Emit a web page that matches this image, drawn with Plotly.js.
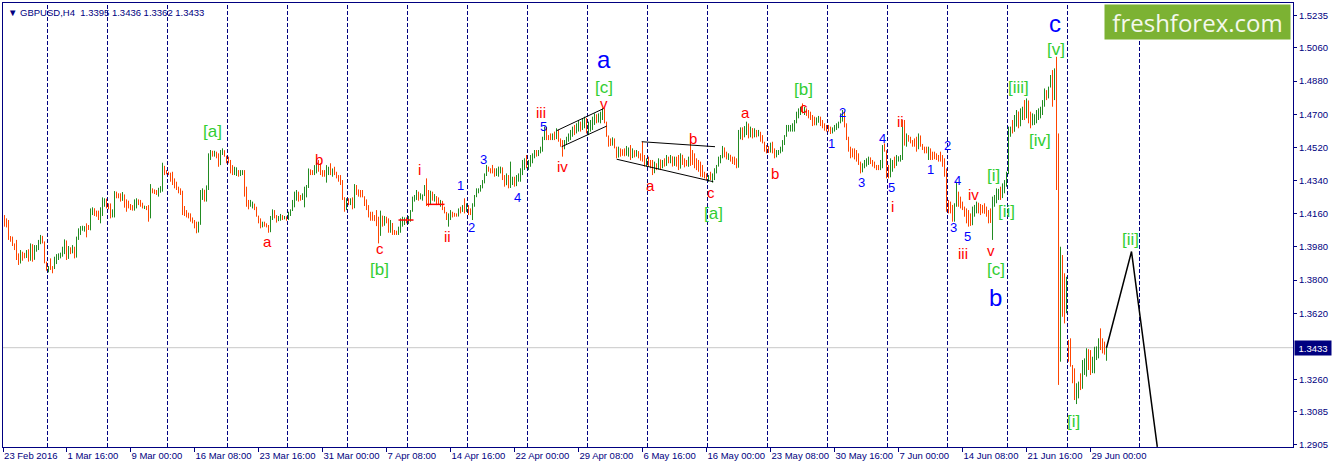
<!DOCTYPE html>
<html><head><meta charset="utf-8">
<script src="https://cdn.plot.ly/plotly-3.0.1.min.js"></script>
<style>html,body{margin:0;padding:0;background:#fff}#chart{width:1333px;height:468px}</style>
</head><body><div id="chart"></div>
<script>
// GBPUSD H4 bars, values in pips above 1.0000 (e.g. 4153 = 1.4153)
const symbol = 'GBPUSD,H4';
const firstOpen = 4140;
const highs = [
4153,4135,4126,4039,4036,3999,4018,3945,3963,3954,3948,3963,3967,3999,3995,3990,3990,4018,4045,4040,4010,3900,
3876,3918,3876,3927,3941,3945,3949,3981,4021,4015,3985,3978,3990,3981,4036,4081,4093,4095,4093,4108,4099,4189,4195,4190,4177,4177,4195,4249,4244,4242,
4216,4216,4184,4283,4280,4271,4271,4278,4265,4238,4231,4213,4207,4238,4244,4238,4235,4220,4204,4202,4207,4321,4298,4292,4289,4301,4310,4437,4420,4397,
4388,4383,4388,4352,4334,4307,4298,4285,4202,4180,4166,4162,4140,4126,4117,4117,4289,4298,4290,4314,4488,4506,4502,4502,4497,4488,4506,4515,4505,4475,
4470,4452,4424,4415,4412,4397,4397,4397,4397,4307,4235,4235,4226,4215,4198,4150,4135,4117,4117,4108,4099,4148,4184,4180,4153,4148,4159,4153,4148,4146,
4171,4184,4235,4280,4289,4280,4262,4271,4307,4316,4406,4401,4397,4424,4455,4452,4434,4397,4397,4424,4415,4434,4406,4415,4388,4370,4370,4343,4250,4244,
4244,4244,4249,4321,4316,4292,4289,4289,4255,4238,4207,4171,4171,4153,4180,4144,4177,4150,4148,4144,4135,4126,4110,4072,4068,4090,4135,4144,4140,4140,
4148,4180,4253,4262,4289,4280,4271,4265,4316,4352,4289,4285,4280,4267,4256,4249,4235,4230,4198,4170,4162,4180,4171,4165,4162,4189,4198,4207,4244,4217,
4207,4189,4217,4262,4298,4298,4316,4343,4379,4425,4416,4407,4425,4407,4407,4416,4416,4412,4370,4379,4370,4443,4361,4361,4370,4379,4407,4452,4461,4479,
4452,4479,4488,4506,4506,4506,4524,4578,4633,4630,4587,4596,4596,4606,4624,4615,4569,4560,4560,4578,4596,4615,4633,4642,4651,4669,4660,4678,4687,4680,
4660,4669,4687,4705,4700,4705,4714,4732,4732,4660,4585,4569,4575,4569,4524,4524,4515,4510,4515,4528,4520,4533,4515,4505,4506,4500,4488,4551,4479,4461,
4470,4452,4452,4443,4434,4461,4455,4452,4461,4479,4470,4479,4472,4470,4470,4479,4488,4480,4461,4452,4470,4584,4506,4488,4461,4452,4443,4425,4388,4379,
4370,4388,4379,4407,4425,4470,4479,4528,4520,4497,4488,4480,4470,4470,4461,4615,4629,4629,4636,4660,4650,4633,4625,4624,4615,4615,4605,4587,4551,4533,
4528,4546,4551,4515,4506,4506,4524,4560,4587,4642,4642,4642,4651,4669,4714,4732,4741,4759,4741,4732,4723,4714,4696,4687,4683,4691,4687,4669,4651,4642,
4642,4633,4629,4642,4651,4660,4705,4723,4715,4651,4578,4524,4515,4515,4506,4488,4443,4434,4452,4461,4470,4466,4452,4443,4425,4425,4452,4533,4542,4505,
4425,4461,4452,4470,4479,4472,4479,4669,4669,4596,4587,4578,4560,4569,4578,4596,4585,4539,4524,4524,4524,4515,4497,4497,4488,4479,4497,4479,4461,4406,
4235,4226,4208,4217,4334,4280,4253,4226,4199,4189,4180,4162,4199,4208,4226,4220,4213,4208,4217,4199,4180,4189,4253,4262,4298,4295,4307,4325,4343,4388,
4633,4633,4669,4696,4723,4715,4732,4741,4777,4786,4775,4714,4705,4700,4723,4732,4741,4777,4840,4831,4850,4913,4940,4949,5012,4596,3981,3936,3837,3818,
3475,3484,3339,3321,3240,3249,3294,3366,3375,3430,3425,3420,3384,3438,3440,3484,3538,3484,3466,3436
];
const lows = [
4090,4086,4018,4008,3985,3963,3909,3882,3890,3905,3918,3920,3900,3905,3900,3910,3954,3963,3995,3999,3891,3851,
3842,3855,3837,3860,3887,3909,3918,3927,3941,3909,3915,3941,3945,3918,3922,4018,4045,4068,4063,4032,4072,4070,4153,4148,4144,4126,4108,4148,4198,4189,
4184,4135,4140,4140,4244,4244,4226,4230,4193,4171,4189,4180,4177,4177,4189,4207,4198,4189,4186,4180,4117,4135,4271,4267,4262,4253,4274,4280,4370,4374,
4370,4334,4316,4298,4289,4271,4262,4153,4148,4140,4135,4117,4108,4081,4054,4058,4100,4235,4226,4226,4289,4452,4470,4470,4461,4415,4424,4479,4470,4434,
4434,4379,4370,4370,4365,4361,4365,4370,4253,4198,4184,4198,4189,4180,4144,4108,4081,4086,4090,4086,4057,4060,4126,4135,4112,4120,4122,4126,4130,4122,
4126,4148,4175,4195,4231,4226,4231,4235,4195,4249,4300,4370,4370,4370,4379,4388,4370,4361,4361,4329,4370,4370,4361,4370,4352,4334,4316,4235,4171,4180,
4207,4207,4184,4190,4262,4253,4249,4249,4202,4180,4140,4122,4122,4120,4093,3999,4040,4090,4095,4108,4057,4057,4045,4045,4045,4045,4057,4090,4099,4108,
4104,4117,4171,4226,4235,4231,4238,4231,4256,4202,4198,4210,4231,4226,4207,4210,4198,4180,4162,4126,4090,4126,4140,4144,4144,4145,4162,4170,4162,4170,
4153,4153,4126,4198,4250,4271,4280,4298,4325,4365,4388,4379,4379,4361,4365,4361,4379,4343,4307,4315,4298,4300,4316,4307,4310,4334,4334,4370,4398,4407,
4397,4415,4434,4461,4470,4473,4488,4497,4560,4560,4560,4560,4560,4560,4565,4551,4524,4470,4510,4533,4551,4560,4578,4587,4596,4606,4606,4615,4624,4596,
4587,4606,4615,4642,4651,4655,4651,4669,4651,4578,4524,4528,4530,4515,4461,4465,4470,4475,4472,4475,4470,4452,4462,4466,4470,4461,4448,4443,4416,4416,
4418,4407,4370,4380,4397,4400,4397,4407,4416,4420,4434,4434,4416,4420,4416,4397,4405,4425,4412,4418,4415,4420,4425,4407,4397,4388,4361,4358,4352,4343,
4334,4343,4329,4343,4379,4416,4434,4461,4466,4455,4452,4443,4430,4425,4407,4410,4564,4560,4575,4587,4569,4575,4569,4575,4575,4580,4551,4542,4497,4488,
4490,4492,4488,4461,4466,4479,4488,4497,4533,4578,4606,4606,4606,4606,4651,4678,4696,4705,4696,4691,4678,4669,4636,4640,4640,4654,4636,4624,4611,4606,
4606,4593,4596,4606,4615,4624,4651,4660,4629,4560,4497,4461,4466,4455,4443,4425,4379,4385,4407,4416,4425,4430,4416,4407,4397,4397,4397,4407,4497,4352,
4352,4358,4388,4407,4420,4443,4443,4452,4530,4524,4551,4542,4524,4524,4497,4510,4524,4506,4488,4488,4452,4452,4452,4456,4452,4443,4443,4415,4361,4171,
4162,4162,4117,4117,4198,4198,4189,4180,4144,4108,4090,4094,4098,4144,4162,4162,4153,4162,4160,4144,4108,4110,4018,4198,4217,4235,4235,4245,4271,4307,
4375,4578,4596,4605,4633,4624,4635,4669,4669,4678,4651,4624,4640,4642,4651,4669,4678,4696,4741,4777,4786,4845,4741,4777,4289,3231,3357,3601,3565,3620,
3357,3330,3240,3149,3127,3158,3203,3210,3285,3276,3312,3285,3295,3294,3366,3375,3420,3402,3395,3362
];
const closes = [
4100,4095,4030,4015,3995,3975,3925,3895,3950,3945,3925,3958,3910,3990,3915,3980,3985,4010,4040,4005,3900,3860,
3870,3862,3861,3920,3935,3940,3945,3975,4015,3920,3975,3950,3980,3930,4030,4075,4085,4090,4092,4080,4075,4180,4190,4155,4150,4130,4185,4240,4242,4200,
4190,4150,4175,4270,4255,4250,4235,4265,4205,4195,4192,4185,4180,4225,4235,4215,4205,4195,4200,4185,4140,4290,4280,4275,4268,4295,4305,4420,4380,4378,
4375,4340,4330,4305,4295,4275,4268,4160,4155,4145,4140,4120,4112,4085,4060,4105,4280,4290,4235,4300,4480,4485,4475,4498,4465,4430,4500,4505,4475,4450,
4440,4385,4375,4385,4395,4370,4390,4392,4260,4210,4200,4205,4215,4190,4150,4115,4095,4110,4100,4092,4065,4140,4175,4145,4125,4140,4150,4135,4145,4140,
4165,4180,4230,4270,4280,4250,4240,4262,4300,4305,4400,4380,4375,4415,4440,4400,4380,4370,4365,4400,4405,4380,4395,4380,4360,4340,4325,4245,4185,4235,
4215,4235,4195,4300,4270,4260,4258,4255,4210,4190,4150,4130,4128,4125,4110,4050,4150,4100,4130,4115,4070,4110,4055,4050,4048,4080,4125,4135,4138,4130,
4140,4175,4245,4255,4280,4240,4262,4263,4310,4215,4210,4250,4240,4255,4215,4213,4230,4185,4168,4135,4155,4170,4150,4148,4146,4180,4170,4190,4175,4185,
4160,4158,4210,4255,4290,4295,4310,4338,4372,4415,4395,4385,4382,4370,4400,4410,4412,4350,4320,4370,4305,4320,4355,4315,4365,4375,4400,4445,4455,4415,
4445,4470,4480,4500,4475,4500,4518,4570,4625,4570,4565,4562,4590,4570,4615,4560,4530,4515,4550,4570,4590,4605,4625,4600,4645,4660,4620,4670,4680,4610,
4650,4662,4680,4700,4660,4698,4708,4725,4660,4585,4535,4532,4568,4520,4470,4515,4480,4478,4476,4480,4512,4465,4505,4472,4500,4468,4455,4450,4425,4440,
4430,4415,4385,4435,4405,4455,4410,4445,4425,4470,4440,4472,4425,4462,4430,4410,4480,4430,4420,4419,4460,4440,4435,4415,4405,4395,4370,4365,4358,4350,
4362,4350,4372,4400,4420,4462,4475,4520,4475,4462,4480,4450,4440,4432,4415,4600,4620,4575,4630,4650,4580,4625,4580,4590,4580,4605,4560,4550,4505,4500,
4495,4540,4495,4470,4500,4502,4518,4555,4580,4635,4638,4640,4645,4662,4708,4725,4735,4712,4732,4700,4685,4675,4645,4641,4675,4685,4645,4630,4618,4612,
4610,4600,4620,4635,4645,4655,4700,4715,4640,4570,4505,4470,4467,4462,4450,4430,4390,4428,4445,4450,4465,4440,4422,4412,4405,4400,4445,4525,4505,4365,
4362,4400,4440,4420,4470,4471,4475,4655,4560,4570,4560,4548,4530,4528,4515,4585,4530,4512,4495,4492,4515,4460,4458,4457,4455,4450,4446,4420,4370,4200,
4175,4170,4125,4210,4280,4220,4200,4190,4150,4115,4100,4098,4190,4200,4220,4170,4165,4163,4161,4150,4115,4113,4240,4255,4290,4292,4245,4318,4338,4380,
4620,4625,4610,4690,4715,4640,4725,4735,4690,4775,4665,4640,4695,4698,4715,4725,4735,4770,4830,4790,4845,4850,4800,4920,4320,3500,3900,3650,3620,3680,
3370,3340,3250,3160,3230,3240,3215,3355,3370,3420,3330,3300,3375,3430,3438,3480,3430,3410,3395,3433
];

// time axis labels (bar index of each label) and weekly separators (bar index)
const timeLabels = ['23 Feb 2016','1 Mar 16:00','9 Mar 00:00','16 Mar 08:00','23 Mar 16:00','31 Mar 00:00','7 Apr 08:00','14 Apr 16:00','22 Apr 00:00','29 Apr 08:00','6 May 16:00','16 May 00:00','23 May 08:00','30 May 16:00','7 Jun 00:00','14 Jun 08:00','21 Jun 16:00','29 Jun 00:00'];
const timeLabelBars = [-0.7,31,63,95,127,159,191,223,255,287,319,351,383,415,447,479,511,543];
const separatorBars = [21.5,51.5,81.5,111.5,141.5,171.5,201.5,231.5,261.5,291.5,321.5,351.5,381.5,411.5,441.5,471.5,501.5,531.5,567.5];
const priceTicks = [1.5235,1.5060,1.4880,1.4700,1.4520,1.4340,1.4160,1.3980,1.3800,1.3620,1.3260,1.3085,1.2905];

// Elliott wave labels: [text, bar index, price, style]
const waveLabels = [
['[a]',104,1.4609,'g'],['a',131.5,1.4007,'r'],['b',157,1.4457,'r'],['c',187.5,1.3969,'r'],['[b]',187.5,1.3855,'g'],
['i',207.5,1.4398,'r'],['ii',221.5,1.4034,'r'],['1',228,1.4311,'b'],['2',233.5,1.4083,'b'],['3',239.5,1.4452,'b'],
['4',256.5,1.4246,'b'],['iii',268,1.4707,'r'],['5',269.5,1.4631,'b'],['iv',279,1.4419,'r'],['a',299.5,1.4995,'B'],
['[c]',299.5,1.4848,'g'],['v',299.5,1.4761,'r'],['a',323,1.4316,'r'],['b',344,1.4571,'r'],['c',353,1.4278,'r'],
['[a]',354.5,1.4164,'g'],['a',370.5,1.4707,'r'],['b',385,1.4381,'r'],['[b]',399.5,1.4837,'g'],['c',399.5,1.4739,'r'],
['1',413.5,1.4539,'b'],['2',419,1.4712,'b'],['3',428.5,1.4332,'b'],['4',439,1.4566,'b'],['ii',448,1.4663,'r'],
['5',443.5,1.4300,'b'],['i',444,1.4197,'r'],['1',463,1.4398,'b'],['2',471.5,1.4528,'b'],['4',476.5,1.4338,'b'],
['3',474.5,1.4083,'b'],['5',481.5,1.4034,'b'],['iii',479,1.3947,'r'],['iv',484.5,1.4262,'r'],['[i]',494.5,1.4370,'g'],
['[ii]',501,1.4170,'g'],['v',493,1.3963,'r'],['[c]',495.5,1.3855,'g'],['b',495.5,1.3708,'B'],['[iii]',507,1.4843,'g'],
['[iv]',517.5,1.4560,'g'],['c',525,1.5195,'B'],['[v]',525.5,1.5049,'g'],['[ii]',563,1.4018,'g'],['[i]',534.5,1.3030,'g']
];

// drawn trend lines (channel, triangle), short red level marks and the projection
const channelBars = [276.1,299.75,null,278.6,301.1,null,318.6,355.25,null,306.1,354.4];
const channelPrices = [1.4611,1.4732,null,1.4524,1.4636,null,1.4551,1.4524,null,1.4456,1.4334];
const levelBars = [197,204.5,null,211.1,220];
const levelPrices = [1.4126,1.4126,null,1.4211,1.4211];
const projBars = [551,563.5,576.4];
const projPrices = [1.3433,1.3955,1.2895];

const toPrice = p => 1 + p / 10000;
const bars = closes.map((_, i) => i);
const opens = [firstOpen].concat(closes.slice(0, -1));
const last = closes.length - 1;
const lastPrice = toPrice(closes[last]);

const traces = [
  {type:'ohlc', x:bars, open:opens.map(toPrice), high:highs.map(toPrice), low:lows.map(toPrice), close:closes.map(toPrice),
   increasing:{line:{color:'#228B22',width:1}}, decreasing:{line:{color:'#FF4500',width:1}}, tickwidth:0, hoverinfo:'skip'},
  {type:'scatter', mode:'lines', x:channelBars, y:channelPrices, line:{color:'#000000',width:1}, hoverinfo:'skip'},
  {type:'scatter', mode:'lines', x:levelBars, y:levelPrices, line:{color:'#FF0000',width:1.5}, hoverinfo:'skip'},
  {type:'scatter', mode:'lines', x:projBars, y:projPrices, line:{color:'#000000',width:1.5}, hoverinfo:'skip'}
];

const styles = {
  r:{color:'#FF0000', size:15},
  b:{color:'#0000FF', size:13},
  g:{color:'#32CD32', size:17},
  B:{color:'#0000FF', size:24}
};

const annotations = waveLabels.map(([t, x, y, s]) => ({
  text:t, x:x, y:y, xref:'x', yref:'y', showarrow:false, xanchor:'center', yanchor:'middle',
  font:{family:'Liberation Sans, Arial, sans-serif', size:styles[s].size, color:styles[s].color}
}));

const hdrVals = [opens[last], highs[last], lows[last], closes[last]].map(v => toPrice(v).toFixed(4)).join(' ');
annotations.push({
  text:'\u25BC ' + symbol + '\u00A0\u00A0' + hdrVals, xref:'paper', yref:'paper', x:0, y:1, xanchor:'left', yanchor:'top',
  xshift:3, yshift:-2, showarrow:false, font:{family:'Liberation Sans, DejaVu Sans, sans-serif', size:9.5, color:'#000080'}
});
annotations.push({
  text:lastPrice.toFixed(4), xref:'paper', yref:'y', x:1, y:lastPrice, xanchor:'left', yanchor:'middle', xshift:1,
  showarrow:false, bgcolor:'#000080', borderpad:1.5, width:33,
  font:{family:'Liberation Sans, Arial, sans-serif', size:9.5, color:'#FFFFFF'}
});
annotations.push({
  text:'freshforex.com', xref:'paper', yref:'paper', x:1, y:1, xanchor:'right', yanchor:'top', xshift:-2, yshift:-1,
  showarrow:false, bgcolor:'#7CB233', width:181, height:30, borderpad:2,
  font:{family:'Open Sans, sans-serif', size:24, color:'#F4F8EC'}
});

const shapes = separatorBars.map(x => ({
  type:'line', xref:'x', yref:'paper', x0:x, x1:x, y0:0, y1:1, layer:'below',
  line:{color:'#000080', width:1, dash:'4px,2px'}
}));
shapes.push({type:'line', xref:'paper', yref:'y', x0:0, x1:1, y0:lastPrice, y1:lastPrice, layer:'below',
  line:{color:'#C8C8C8', width:1}});

const layout = {
  width:1333, height:468, margin:{l:3, r:40, t:3, b:21, pad:0},
  paper_bgcolor:'#FFFFFF', plot_bgcolor:'#FFFFFF', showlegend:false, hovermode:false,
  font:{family:'Liberation Sans, Arial, sans-serif', size:9.5, color:'#000080'},
  xaxis:{range:[-0.75,644.25], showgrid:false, zeroline:false, showline:true, linecolor:'#000080', linewidth:1, mirror:true,
    ticks:'outside', ticklen:4, tickcolor:'#000080', tickwidth:1, tickmode:'array', tickvals:timeLabelBars, ticktext:timeLabels,
    ticklabelposition:'outside right', tickangle:0, tickfont:{size:9.5, color:'#000080'}, rangeslider:{visible:false}, fixedrange:true},
  yaxis:{range:[1.2894,1.5304], side:'right', showgrid:false, zeroline:false, showline:true, linecolor:'#000080', linewidth:1, mirror:true,
    ticks:'outside', ticklen:3, tickcolor:'#000080', tickwidth:1, tickmode:'array', tickvals:priceTicks,
    ticktext:priceTicks.map(v => v.toFixed(4)), tickfont:{size:9.5, color:'#000080'}, fixedrange:true},
  shapes:shapes, annotations:annotations
};

Plotly.newPlot('chart', traces, layout, {displayModeBar:false, staticPlot:true});
</script>
</body></html>
